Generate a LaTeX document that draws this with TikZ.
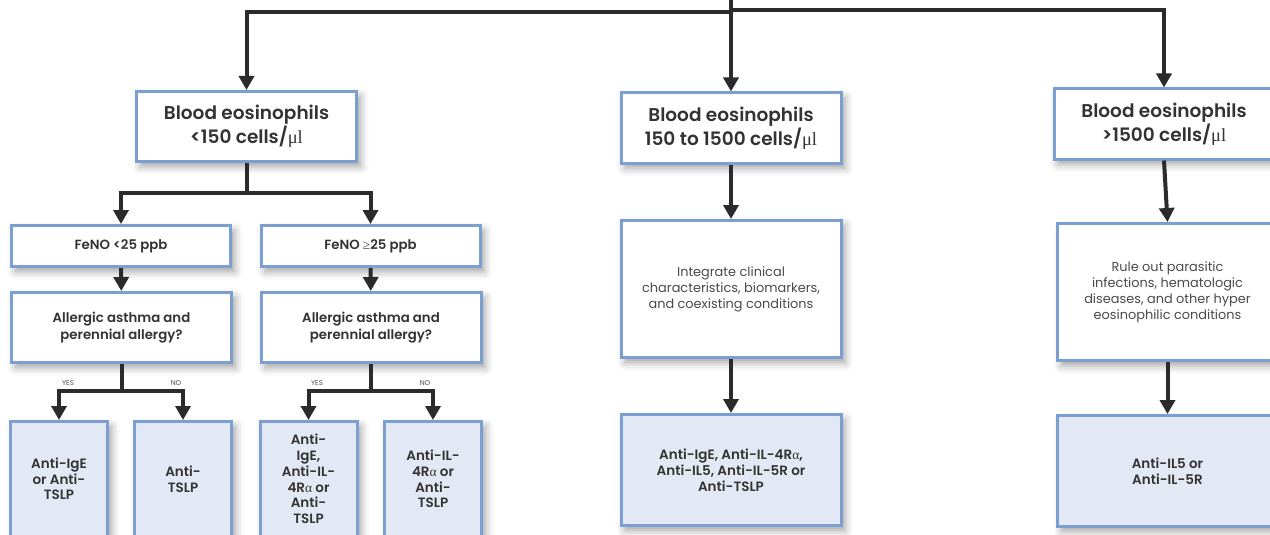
\documentclass[tikz,border=0pt]{standalone}
\usepackage{fontspec}
\setmainfont{Poppins}[BoldFont={Poppins SemiBold}]
\newfontfamily\grk{Liberation Serif}
\usetikzlibrary{arrows.meta,shadows.blur}

\definecolor{edge}{HTML}{7C9FD1}
\definecolor{pale}{HTML}{E3E9F4}
\definecolor{ink}{HTML}{2B2B2B}
\definecolor{txt}{HTML}{333333}
\definecolor{soft}{HTML}{4A4A4A}

\tikzset{
  box/.style={draw=edge, line width=3pt, fill=white, align=center, text=txt, inner sep=3pt,
    blur shadow={shadow xshift=4pt, shadow yshift=-5pt, shadow blur radius=8pt, shadow opacity=38}},
  headbox/.style={box, font=\bfseries\fontsize{18.5}{24}\selectfont, minimum width=220pt, minimum height=70pt},
  fenobox/.style={box, font=\bfseries\fontsize{13.3}{15}\selectfont, minimum width=219pt, minimum height=41pt},
  askbox/.style={box, font=\bfseries\fontsize{13.3}{17}\selectfont, minimum width=220pt, minimum height=70pt},
  notebox/.style={box, font=\fontsize{12.9}{16}\selectfont, text=soft, minimum width=220pt, minimum height=137pt},
  drugbox/.style={box, fill=pale, font=\bfseries\fontsize{13.5}{15.7}\selectfont, minimum width=97pt, minimum height=115pt},
  widedrug/.style={box, fill=pale, font=\bfseries\fontsize{13.5}{16}\selectfont, minimum width=220pt, minimum height=111pt},
  link/.style={draw=ink, line width=4pt},
  arr/.style={link, -{Triangle[width=15pt,length=14pt]}},
  tag/.style={font=\fontsize{7}{8}\selectfont, text=soft, inner sep=0pt},
}

\begin{document}
\begin{tikzpicture}[x=1pt,y=-1pt]
  \clip (0,0) rectangle (1270,535);

  % first level: eosinophil count
  \node[headbox] (lowEos)  at (246.5,126.5) {Blood eosinophils\\{}<150 cells/{\grk\mdseries μl}};
  \node[headbox] (midEos)  at (731,128)     {Blood eosinophils\\150 to 1500 cells/{\grk\mdseries μl}};
  \node[headbox] (highEos) at (1164,124)    {Blood eosinophils\\{}>1500 cells/{\grk\mdseries μl}};

  % left branch: FeNO
  \node[fenobox] (fenoLow)  at (121,246)   {FeNO <25 ppb};
  \node[fenobox] (fenoHigh) at (370.5,246) {FeNO {\grk\mdseries ≥}25 ppb};
  \node[askbox] (askLow)  at (121.5,327.5) {Allergic asthma and\\perennial allergy?};
  \node[askbox] (askHigh) at (371,327.5)   {Allergic asthma and\\perennial allergy?};

  \node[drugbox] (drugA) at (59,479)    {Anti-IgE\\or Anti-\\TSLP};
  \node[drugbox] (drugB) at (183,479)   {Anti-\\TSLP};
  \node[drugbox] (drugC) at (308.5,479) {Anti-\\IgE,\\Anti-IL-\\4R{\grk\mdseries α} or\\Anti-\\TSLP};
  \node[drugbox] (drugD) at (433,479)   {Anti-IL-\\4R{\grk\mdseries α} or\\Anti-\\TSLP};

  % middle branch
  \node[notebox] (midNote) at (731,289) {Integrate clinical\\characteristics, biomarkers,\\and coexisting conditions};
  \node[widedrug] (midDrug) at (731,470) {Anti-IgE, Anti-IL-4R{\grk\mdseries α},\\Anti-IL5, Anti-IL-5R or\\Anti-TSLP};

  % right branch
  \node[notebox] (highNote) at (1167.5,292) {Rule out parasitic\\infections, hematologic\\diseases, and other hyper\\eosinophilic conditions};
  \node[widedrug] (highDrug) at (1167.5,471) {Anti-IL5 or\\Anti-IL-5R};

  % answer tags
  \node[tag] (yesLow) at (68,383)  {YES};
  \node[tag] (noLow)  at (176,383) {NO};
  \node[tag] (yesHigh) at (317,383) {YES};
  \node[tag] (noHigh)  at (425,383) {NO};

  % junction points
  \coordinate (root) at (731,-3);
  \coordinate (rootL) at (731,12);
  \coordinate (rootR) at (731,10);
  \coordinate (lowSplit) at (246.5,193);
  \coordinate (askLowSplit) at (121.5,391);
  \coordinate (askHighSplit) at (371,391);

  % connectors
  \draw[link] (root) -- (rootL);
  \draw[arr] (rootL) -| (lowEos.north);
  \draw[arr] (rootL) -- (midEos.north);
  \draw[arr] (rootR) -| (highEos.north);

  \draw[link] (lowEos.south) -- (lowSplit);
  \draw[arr] (lowSplit) -| (fenoLow.north);
  \draw[arr] (lowSplit) -| (fenoHigh.north);
  \draw[arr] (fenoLow) -- (askLow);
  \draw[arr] (fenoHigh) -- (askHigh);

  \draw[link] (askLow.south) -- (askLowSplit);
  \draw[arr] (askLowSplit) -| (drugA.north);
  \draw[arr] (askLowSplit) -| (drugB.north);
  \draw[link] (askHigh.south) -- (askHighSplit);
  \draw[arr] (askHighSplit) -| (drugC.north);
  \draw[arr] (askHighSplit) -| (drugD.north);

  \draw[arr] (midEos) -- (midNote);
  \draw[arr] (midNote) -- (midDrug);
  \draw[arr] (highEos.south) -- (highNote.north);
  \draw[arr] (highNote) -- (highDrug);
\end{tikzpicture}
\end{document}
